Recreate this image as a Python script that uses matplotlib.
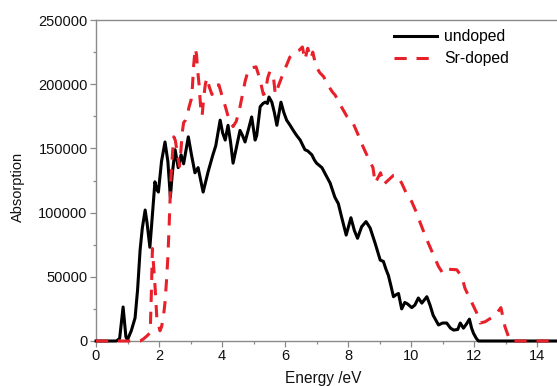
import matplotlib
matplotlib.use("Agg")
import matplotlib.pyplot as plt
from matplotlib.ticker import MultipleLocator

plt.rcParams['font.family'] = ['Liberation Sans', 'DejaVu Sans']

# undoped (black solid)
undoped_E = [0.00, 0.65, 0.75, 0.86, 0.95, 1.00, 1.12, 1.24, 1.32, 1.40, 1.47, 1.56, 1.62, 1.71,
             1.78, 1.87, 1.93, 1.98, 2.08, 2.19, 2.28, 2.36, 2.42, 2.51, 2.61, 2.70, 2.78, 2.93,
             3.03, 3.14, 3.24, 3.40, 3.56, 3.71, 3.80, 3.94, 4.02, 4.10, 4.19, 4.27, 4.35, 4.45,
             4.57, 4.65, 4.73, 4.84, 4.94, 5.05, 5.10, 5.21, 5.30, 5.37, 5.44, 5.49, 5.58, 5.66,
             5.74, 5.87, 5.96, 6.05, 6.16, 6.26, 6.37, 6.48, 6.55, 6.63, 6.72, 6.85, 6.93, 7.00,
             7.17, 7.30, 7.43, 7.58, 7.69, 7.80, 7.94, 8.09, 8.20, 8.30, 8.43, 8.57, 8.70, 8.78,
             8.86, 9.02, 9.12, 9.20, 9.28, 9.36, 9.44, 9.52, 9.60, 9.70, 9.80, 9.88, 10.02, 10.12,
             10.23, 10.34, 10.50, 10.60, 10.70, 10.87, 11.00, 11.13, 11.25, 11.35, 11.48, 11.56,
             11.66, 11.75, 11.85, 11.92, 11.98, 12.07, 12.14, 14.63]
undoped_A = [0, 0, 2000, 26500, 3000, 1000, 8000, 18000, 40000, 71000, 88000, 102000, 92000, 73000,
             95000, 124000, 118000, 116000, 140000, 155000, 140000, 112000, 130000, 149000, 135000,
             145000, 138000, 159000, 145000, 131000, 135000, 116000, 132000, 145000, 152000, 172000,
             162000, 156500, 168000, 155000, 138500, 150000, 164000, 160000, 155000, 165000, 174500,
             156500, 160000, 182500, 185000, 186000, 185000, 190000, 186000, 178000, 168000, 186000,
             178000, 172000, 168000, 164000, 160000, 156500, 153000, 149000, 148000, 145000, 141000,
             138500, 135000, 129000, 123000, 112000, 107000, 96000, 82500, 96000, 86000, 80000,
             89000, 93000, 88000, 82000, 76000, 63000, 62000, 56000, 51000, 43000, 34500, 36000,
             37000, 25000, 30000, 29000, 26000, 28000, 33500, 29500, 34500, 28000, 20000, 12500,
             14000, 14000, 10000, 8500, 9000, 14000, 10000, 13000, 17000, 10000, 6000, 2000, 0, 0]

# Sr-doped (red dashed)
sr_E = [0.00, 1.40, 1.50, 1.62, 1.72, 1.76, 1.79, 1.83, 1.88, 1.93, 2.03, 2.08, 2.14, 2.19, 2.24,
        2.28, 2.32, 2.35, 2.38, 2.43, 2.47, 2.52, 2.58, 2.65, 2.70, 2.74, 2.78, 2.84, 2.90, 2.95,
        3.02, 3.06, 3.10, 3.15, 3.19, 3.23, 3.27, 3.31, 3.34, 3.37, 3.42, 3.47, 3.52, 3.60, 3.68,
        3.80, 3.90, 4.00, 4.10, 4.18, 4.27, 4.35, 4.45, 4.55, 4.65, 4.73, 4.82, 4.90, 5.08, 5.15,
        5.22, 5.31, 5.37, 5.45, 5.52, 5.63, 5.69, 5.74, 5.84, 5.95, 6.05, 6.15, 6.30, 6.45, 6.55,
        6.63, 6.72, 6.82, 6.88, 6.98, 7.10, 7.22, 7.37, 7.50, 7.59, 7.75, 7.96, 8.17, 8.33, 8.48,
        8.64, 8.79, 8.86, 9.03, 9.13, 9.44, 9.55, 9.70, 9.84, 10.02, 10.18, 10.29, 10.44, 10.55,
        10.71, 10.87, 11.00, 11.08, 11.45, 11.61, 11.71, 12.08, 12.19, 12.35, 12.67, 12.85, 12.98,
        13.14, 14.63]
sr_A = [0, 0, 1500, 4000, 6500, 40000, 72000, 58000, 40000, 18000, 8000, 11000, 19000, 30000,
        48000, 65000, 89000, 110000, 128000, 147000, 159000, 156000, 146000, 136000, 150000,
        163000, 170000, 172000, 176000, 182000, 188000, 198000, 215000, 228000, 223000, 210000,
        200000, 186000, 175500, 176000, 190000, 200000, 205000, 197500, 192000, 199000, 199500,
        191000, 183000, 176000, 170000, 167000, 171000, 180000, 192000, 202000, 210000, 212500,
        213500, 208000, 202000, 192000, 193000, 205000, 210000, 206000, 192000, 195500, 202000,
        209000, 215000, 221000, 225000, 226500, 229000, 219000, 228000, 220000, 225000, 214000,
        209000, 206000, 199000, 194000, 191500, 184000, 175000, 169000, 160000, 151000, 142500,
        135000, 123000, 131000, 122000, 129000, 129000, 123000, 115500, 108500, 99500, 92000,
        82500, 76000, 67000, 58000, 53000, 56000, 55500, 50000, 41000, 22000, 14000, 15000, 20000,
        26000, 11000, 0, 0]

x_ticks = [0, 2, 4, 6, 8, 10, 12, 14]
y_ticks = [0, 50000, 100000, 150000, 200000, 250000]

fig = plt.figure(figsize=(5.57, 3.86), dpi=100)
ax = fig.add_axes([96 / 557, 1 - 341 / 386, 1 - 96 / 557, (341 - 20) / 386])

ax.plot(undoped_E, undoped_A, color='black', lw=2.2, label='undoped', clip_on=False, zorder=3,
        solid_joinstyle='round')
ax.plot(sr_E, sr_A, color='#e8202a', lw=2.2, ls=(0, (4.0, 3.2)), label='Sr-doped',
        clip_on=False, zorder=4)

ax.set_xlim(0, 14.63)
ax.set_ylim(0, 250000)
ax.set_xticks(x_ticks)
ax.set_yticks(y_ticks)
ax.xaxis.set_minor_locator(MultipleLocator(1))
ax.yaxis.set_minor_locator(MultipleLocator(25000))

spine_col = '#8a8a8a'
for s in ['left', 'bottom', 'top']:
    ax.spines[s].set_color(spine_col)
    ax.spines[s].set_linewidth(1.0)
ax.spines['right'].set_visible(False)

ax.tick_params(axis='both', which='major', direction='out', length=4, width=0.9,
               color=spine_col, labelsize=10.5, labelcolor='#111111', pad=2)
ax.tick_params(axis='both', which='minor', direction='out', length=2.5, width=0.9,
               color=spine_col)
ax.tick_params(top=False, right=False, which='both')

ax.set_xlabel('Energy /eV', fontsize=11.2, color='#111111')
ax.set_ylabel('Absorption', fontsize=10.5, color='#111111')
ax.xaxis.set_label_coords((323 - 96) / (557 - 96), -0.095)
ax.yaxis.set_label_coords((25 - 96) / (557 - 96), 0.48)

leg = ax.legend(loc='upper left', bbox_to_anchor=(394 / 557, 1 - 29 / 386),
                bbox_transform=fig.transFigure, frameon=False, fontsize=11.3,
                handlelength=2.75, handletextpad=0.45, labelspacing=0.45,
                borderpad=0, borderaxespad=0)

fig.savefig('out.png', dpi=100)
